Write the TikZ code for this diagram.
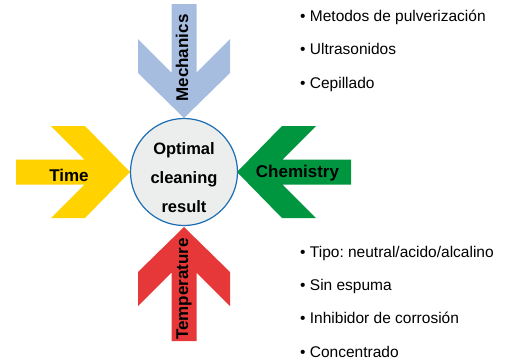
\documentclass[tikz,border=0pt]{standalone}
\usepackage{fontspec}
\setmainfont{Liberation Sans}
\frenchspacing
\definecolor{mechblue}{HTML}{A7BDE0}
\definecolor{tempred}{HTML}{E63838}
\definecolor{timeyellow}{HTML}{FFD200}
\definecolor{chemgreen}{HTML}{00963F}
\definecolor{ringblue}{HTML}{1E6EB4}
\definecolor{discgray}{HTML}{ECEDED}
\begin{document}
\begin{tikzpicture}[x=1pt,y=-1pt]
\tikzset{every node/.style={inner sep=0pt},
  lbl/.style={font=\fontsize{17}{20}\selectfont\bfseries, anchor=base},
  item/.style={font=\fontsize{15.5}{18}\selectfont, anchor=base west}}

\useasboundingbox (0,0) rectangle (512,360);

% Chevron arrows, tip at the origin
\foreach \tip/\ang/\col in {{184,118}/-90/mechblue, {184,227}/90/tempred,
                            {130,172}/0/timeyellow, {237,172}/180/chemgreen}{
  \begin{scope}[shift={(\tip)}, rotate=\ang]
    \fill[\col] (0,0) -- (-45,-46) -- (-79,-46) -- (-45.5,-12.5) -- (-114,-12.5)
      -- (-114,12.5) -- (-45.5,12.5) -- (-79,46) -- (-45,46) -- cycle;
  \end{scope}
}

% Centre disc
\node[circle, draw=ringblue, fill=discgray, line width=1.2pt, minimum size=107pt] (result) at (184,172) {};
\node[font=\fontsize{16.5}{29}\selectfont\bfseries, align=center] (resulttxt) at ([yshift=-6pt]result.center) {Optimal\\cleaning\\result};

% Arrow labels
\node[lbl, rotate=90] (mech) at (188,58) {Mechanics};
\node[lbl, rotate=90] (temp) at (188,289) {Temperature};
\node[lbl] (time) at (69,181) {Time};
\node[lbl] (chem) at (297.5,177) {Chemistry};

% Lists
\node[item] (m1) at (300,21) {\textbullet\ Metodos de pulverización};
\node[item] (m2) at (300,54.5) {\textbullet\ Ultrasonidos};
\node[item] (m3) at (300,88) {\textbullet\ Cepillado};

\node[item] (c1) at (300,257) {\textbullet\ Tipo: neutral/acido/alcalino};
\node[item] (c2) at (300,290) {\textbullet\ Sin espuma};
\node[item] (c3) at (300,323) {\textbullet\ Inhibidor de corrosión};
\node[item] (c4) at (300,357) {\textbullet\ Concentrado};
\end{tikzpicture}
\end{document}
